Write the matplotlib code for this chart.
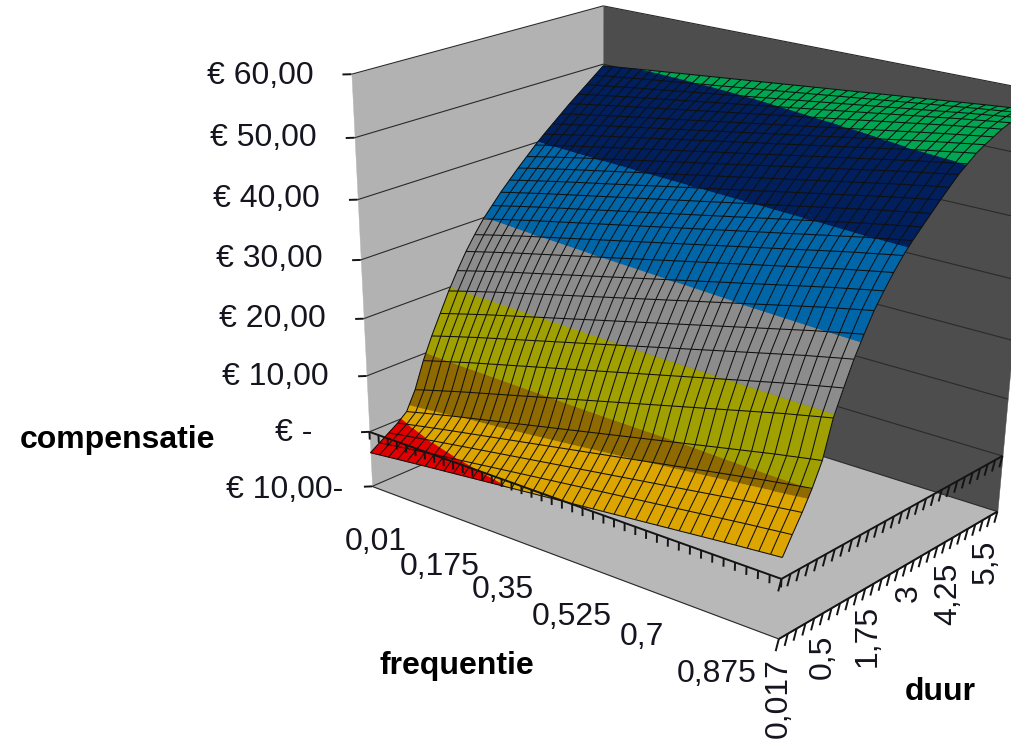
"""
Compensatie surface: value against frequentie and duur, drawn as a banded
3D surface with a fixed camera.
"""

import numpy as np
import matplotlib
matplotlib.use("Agg")
import matplotlib.pyplot as plt
from mpl_toolkits.mplot3d.art3d import Poly3DCollection, Line3DCollection

plt.rcParams['font.family'] = ['Liberation Sans', 'DejaVu Sans']

# tick labels (every 7th frequentie, every 5th duur category)
freq_labels = ['0,01', '0,175', '0,35', '0,525', '0,7', '0,875']
duur_labels = ['0,017', '0,5', '1,75', '3', '4,25', '5,5']
value_ticks = [-10, 0, 10, 20, 30, 40, 50, 60]

# compensatie along duur at the lowest and highest frequentie
comp_low = [-3.8, -2.7, -1.6, -0.5, 0.9, 4.2, 8.8, 12.6, 16.0, 19.4, 22.4, 25.2, 27.6, 29.8,
            31.6, 33.4, 35.0, 36.6, 38.1, 39.6, 41.0, 42.3, 43.6, 44.9, 46.1, 47.3, 48.5, 49.7]
comp_high = [3.5, 6.4, 9.2, 12.3, 16.0, 22.0, 26.0, 29.8, 33.0, 36.0, 38.4, 40.6, 42.6, 44.3,
             45.8, 47.3, 48.8, 50.2, 51.6, 52.7, 53.8, 54.6, 55.3, 56.0, 56.5, 56.8, 57.0, 57.0]
# position of each frequentie column between those two curves
freq_share = [0, .028, .055, .082, .108, .135, .16, .185, .21, .235, .26, .285, .31, .335,
              .36, .385, .41, .435, .46, .485, .51, .535, .56, .585, .61, .635, .66, .685, .71,
              .735, .76, .785, .81, .835, .86, .885, .91, .932, .955, .978, 1.0]

# colour band limits, at the low and the high frequentie side
edges_low = [0, 1.9, 10, 20, 30, 40, 50.2]
edges_high = [-2.9, 11.0, 12.2, 22.5, 32, 43.5, 52.6]
band_colors = ['#E00000', '#DDA500', '#8F6A00', '#A0A000', '#8C8C8C', '#0066A8', '#001F5C', '#00A651']

low = np.array(comp_low)
high = np.array(comp_high)
share = np.array(freq_share)
comp = low[:, None] + (high - low)[:, None] * share[None, :]
n_duur, n_freq = comp.shape
x_end, y_end = n_freq - 1, n_duur - 1
z_min, z_max = value_ticks[0], value_ticks[-1]

# camera calibration: box corners and where they land on the 1012x739 canvas
box_pts = np.array([(0, 0, -10), (0, 0, 0), (0, 0, 60), (x_end, 0, -10), (x_end, 0, 0),
                    (x_end, y_end, -10), (x_end, y_end, 0), (x_end, y_end, 60),
                    (0, y_end, -10), (0, y_end, 60)], float)
px_pts = np.array([(373, 489), (370, 432), (352, 72), (778, 640), (780, 577),
                   (998, 512), (1003, 455), (1037, 92), (602, 385), (602, 7)], float)


def solve_camera():
    rows, rhs = [], []
    for (x, y, z), (u, v) in zip(box_pts, px_pts):
        rows.append([x, y, z, 1, 0, 0, 0, 0, -u * x, -u * y, -u * z])
        rows.append([0, 0, 0, 0, x, y, z, 1, -v * x, -v * y, -v * z])
        rhs += [u, v]
    p = np.linalg.lstsq(np.array(rows), np.array(rhs), rcond=None)[0]
    return np.append(p, 1).reshape(3, 4)


cam = solve_camera()

fig = plt.figure(figsize=(10.12, 7.39), dpi=100)
ax = fig.add_axes([0, 0, 1, 1], projection='3d')
ax.set_axis_off()
ax.computed_zorder = False
ax.patch.set_visible(False)
ax.set_xlim(0, x_end)
ax.set_ylim(0, y_end)
ax.set_zlim(z_min, z_max)


def get_proj():
    # canvas pixels -> the 2D coordinates the 3D axes draws in
    flip = np.array([[1, 0, 0], [0, -1, 739], [0, 0, 1]], float)
    to_ax = ax.transData.get_affine().inverted().get_matrix()
    p = to_ax @ flip @ cam
    return np.array([p[0], p[1], [0, 0, 0, -1], p[2]])


ax.get_proj = get_proj


def level(k, x):
    return edges_low[k] + (edges_high[k] - edges_low[k]) * x / x_end


def clip(poly, k, above):
    g = poly[:, 2] - level(k, poly[:, 0])
    if not above:
        g = -g
    out = []
    for i in range(len(poly)):
        j = (i + 1) % len(poly)
        if g[i] >= 0:
            out.append(poly[i])
        if (g[i] >= 0) != (g[j] >= 0):
            out.append(poly[i] + (poly[j] - poly[i]) * g[i] / (g[i] - g[j]))
    return np.array(out)


def add_lines(segs, color, lw, z):
    col = Line3DCollection(np.array(segs, float), colors=color, linewidths=lw, zorder=z)
    col.set_clip_on(False)
    ax.add_collection3d(col, autolim=False)


def add_polys(polys, colors, z):
    col = Poly3DCollection(polys, facecolors=colors, edgecolors=colors, linewidths=0.3, zorder=z)
    col.set_clip_on(False)
    ax.add_collection3d(col, autolim=False)


# walls and floor
left_wall = [(0, 0, z_min), (0, y_end, z_min), (0, y_end, z_max), (0, 0, z_max)]
back_wall = [(0, y_end, z_min), (x_end, y_end, z_min), (x_end, y_end, z_max), (0, y_end, z_max)]
floor = [(0, 0, z_min), (x_end, 0, z_min), (x_end, y_end, z_min), (0, y_end, z_min)]
add_polys([np.array(left_wall, float)], ['#B2B2B2'], 1)
add_polys([np.array(back_wall, float)], ['#4D4D4D'], 1)
add_polys([np.array(floor, float)], ['#B8B8B8'], 1)

# gridlines on the walls and the box outline
grid = []
for v in value_ticks:
    grid.append([(0, 0, v), (0, y_end, v)])
    grid.append([(0, y_end, v), (x_end, y_end, v)])
grid.append([(0, 0, z_min), (x_end, 0, z_min)])
grid.append([(x_end, 0, z_min), (x_end, y_end, z_min)])
add_lines(grid, '#2A2A2A', 0.8, 2)

# surface cells, cut along the colour bands
polys, colors = [], []
for r in range(n_duur - 1):
    for c in range(n_freq - 1):
        cell = np.array([(c, r, comp[r, c]), (c + 1, r, comp[r, c + 1]),
                         (c + 1, r + 1, comp[r + 1, c + 1]), (c, r + 1, comp[r + 1, c])])
        for b, color in enumerate(band_colors):
            piece = cell
            if b > 0:
                piece = clip(piece, b - 1, True)
            if len(piece) and b < len(edges_low):
                piece = clip(piece, b, False)
            if len(piece) >= 3:
                polys.append(piece)
                colors.append(color)
add_polys(polys, colors, 3)

# surface mesh
mesh = []
for r in range(n_duur):
    for c in range(n_freq - 1):
        mesh.append([(c, r, comp[r, c]), (c + 1, r, comp[r, c + 1])])
for c in range(n_freq):
    for r in range(n_duur - 1):
        mesh.append([(c, r, comp[r, c]), (c, r + 1, comp[r + 1, c])])
add_lines(mesh, '#101010', 0.75, 4)

# axis lines with their tick marks
ticks = [[(0, 0, 0), (x_end, 0, 0)], [(x_end, 0, 0), (x_end, y_end, 0)],
         [(x_end, 0, z_min), (x_end, y_end, z_min)]]
for c in range(n_freq):
    ticks.append([(c, 0, 0), (c, 0, -1.4)])
for r in range(n_duur):
    ticks.append([(x_end, r, 0), (x_end, r - 0.3, -1.8)])
    ticks.append([(x_end, r, z_min), (x_end, r - 0.3, z_min - 1.8)])
for v in value_ticks:
    ticks.append([(0, 0, v), (-0.45, -0.45, v)])
add_lines(ticks, '#141414', 1.4, 5)


def px_text(x, y, s, color='#15151F', **kw):
    fig.text(x / 1012, 1 - y / 739, s, color=color, fontsize=23, va='center', **kw)


# value axis labels
for s, x, y in [('€ 60,00', 207, 76), ('€ 50,00', 210, 138), ('€ 40,00', 213, 199),
                ('€ 30,00', 216, 259), ('€ 20,00', 219, 319), ('€ 10,00', 222, 377),
                ('€ -', 275, 433), ('€ 10,00-', 226, 490)]:
    px_text(x, y, s, ha='left')

for s, x, y in zip(freq_labels, [345, 400, 472, 532, 620, 677], [542, 567, 590, 617, 637, 674]):
    px_text(x, y, s, ha='left')

for s, x, y in zip(duur_labels, [779, 823, 868, 909, 948, 986], [698, 657, 636, 593, 594, 562]):
    px_text(x, y, s, ha='center', rotation=90)

px_text(20, 440, 'compensatie', ha='left', fontweight='bold', color='black')
px_text(380, 666, 'frequentie', ha='left', fontweight='bold', color='black')
px_text(905, 692, 'duur', ha='left', fontweight='bold', color='black')

fig.savefig('out.png', dpi=100)
